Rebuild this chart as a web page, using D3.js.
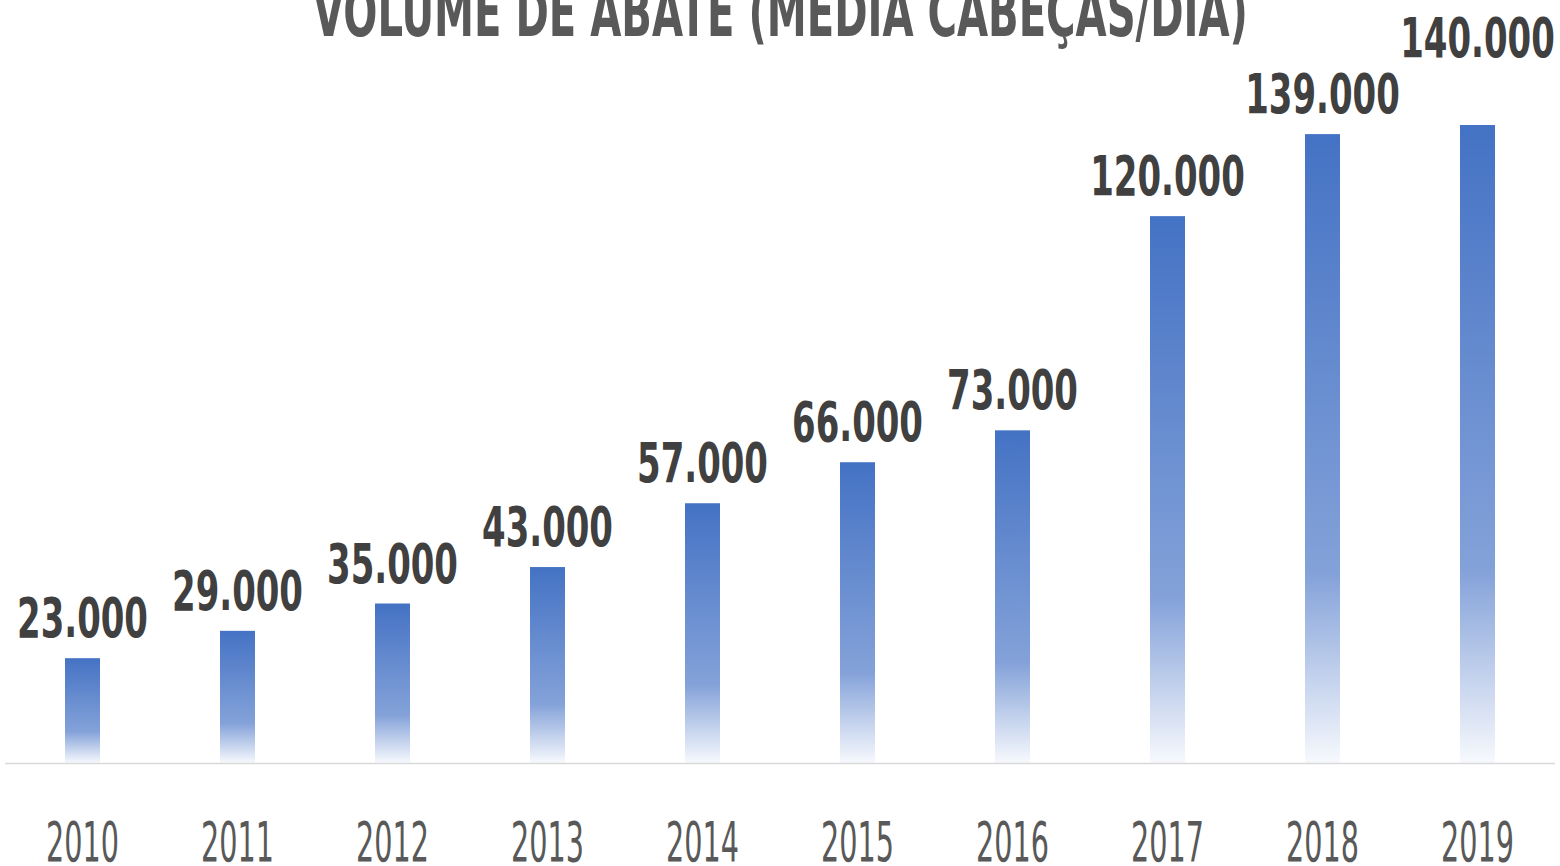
<!DOCTYPE html>
<html>
<head>
<meta charset="utf-8">
<script src="https://cdn.jsdelivr.net/npm/d3@7"></script>
<style>
  html, body { margin: 0; padding: 0; background: #fff; }
  svg { display: block; }
  text { font-family: "Liberation Sans Narrow", "DejaVu Sans Condensed", "Roboto Condensed", sans-serif; }
</style>
</head>
<body>
<svg width="1560" height="866"></svg>
<script>
var data = [
  {year: "2010", value: 23000},
  {year: "2011", value: 29000},
  {year: "2012", value: 35000},
  {year: "2013", value: 43000},
  {year: "2014", value: 57000},
  {year: "2015", value: 66000},
  {year: "2016", value: 73000},
  {year: "2017", value: 120000},
  {year: "2018", value: 138000, label: "139.000"},   // bar sits a bit lower than its typed label
  {year: "2019", value: 140000, lift: 47}            // label dragged up in the original
];

var svg = d3.select("svg"),
  width = +svg.attr("width"),
  height = +svg.attr("height");

var x = d3.scaleBand()
  .domain(data.map(function (d) { return d.year; }))
  .range([5, 1555])
  .paddingInner(0.7742)
  .paddingOuter(0.3871);

var y = d3.scaleLinear()
  .domain([0, 140000])
  .range([763, 125]);

var fmt = d3.formatLocale({decimal: ",", thousands: ".", grouping: [3], currency: ["", ""]}).format(",.0f");

/* vertical fade, one per bar */
var grad = svg.append("defs").append("linearGradient")
  .attr("id", "fade")
  .attr("x1", 0).attr("y1", 0).attr("x2", 0).attr("y2", 1);
grad.append("stop").attr("offset", "0%").attr("stop-color", "#4472C4");
grad.append("stop").attr("offset", "70%").attr("stop-color", "#84A2D9");
grad.append("stop").attr("offset", "100%").attr("stop-color", "#F7F9FD");

svg.append("g")
  .selectAll("rect")
  .data(data)
  .enter().append("rect")
  .attr("x", function (d) { return x(d.year); })
  .attr("y", function (d) { return y(d.value); })
  .attr("width", x.bandwidth())
  .attr("height", function (d) { return y(0) - y(d.value); })
  .attr("fill", "url(#fade)");

/* baseline */
svg.append("line")
  .attr("x1", 5).attr("x2", 1555)
  .attr("y1", y(0) + 0.5).attr("y2", y(0) + 0.5)
  .attr("stroke", "#D9D9D9")
  .attr("stroke-width", 1.5);

// squeeze factor so the installed font gets the narrow look of the original
function squeeze(sample, size, weight, target) {
  var t = svg.append("text").attr("font-size", size).attr("font-weight", weight).text(sample);
  var w = t.node().getComputedTextLength();
  t.remove();
  return target / w;
}

/* value labels */
var kv = squeeze("23.000", 56, "bold", 131);
svg.append("g")
  .selectAll("text")
  .data(data)
  .enter().append("text")
  .attr("transform", function (d) {
    var cx = x(d.year) + x.bandwidth() / 2;
    return "translate(" + cx + "," + (y(d.value) - 21 - (d.lift || 0)) + ") scale(" + kv + ",1)";
  })
  .attr("text-anchor", "middle")
  .attr("font-size", 56)
  .attr("font-weight", "bold")
  .attr("fill", "#404040")
  .text(function (d) { return d.label || fmt(d.value); });

/* year labels */
var ky = squeeze("2010", 55, "normal", 73);
svg.append("g")
  .selectAll("text")
  .data(data)
  .enter().append("text")
  .attr("transform", function (d) {
    var cx = x(d.year) + x.bandwidth() / 2;
    return "translate(" + cx + ",861) scale(" + ky + ",1)";
  })
  .attr("text-anchor", "middle")
  .attr("font-size", 55)
  .attr("fill", "#595959")
  .text(function (d) { return d.year; });

/* title, cut off at the top like the original */
var title = svg.append("text")
  .attr("text-anchor", "middle")
  .attr("font-size", 68)
  .attr("font-weight", "bold")
  .attr("fill", "#595959")
  .text("VOLUME DE ABATE (MÉDIA CABEÇAS/DIA)");
var tw = title.node().getComputedTextLength();
title.attr("transform", "translate(780.5,36) scale(" + (935 / tw) + ",1)");
</script>
</body>
</html>
